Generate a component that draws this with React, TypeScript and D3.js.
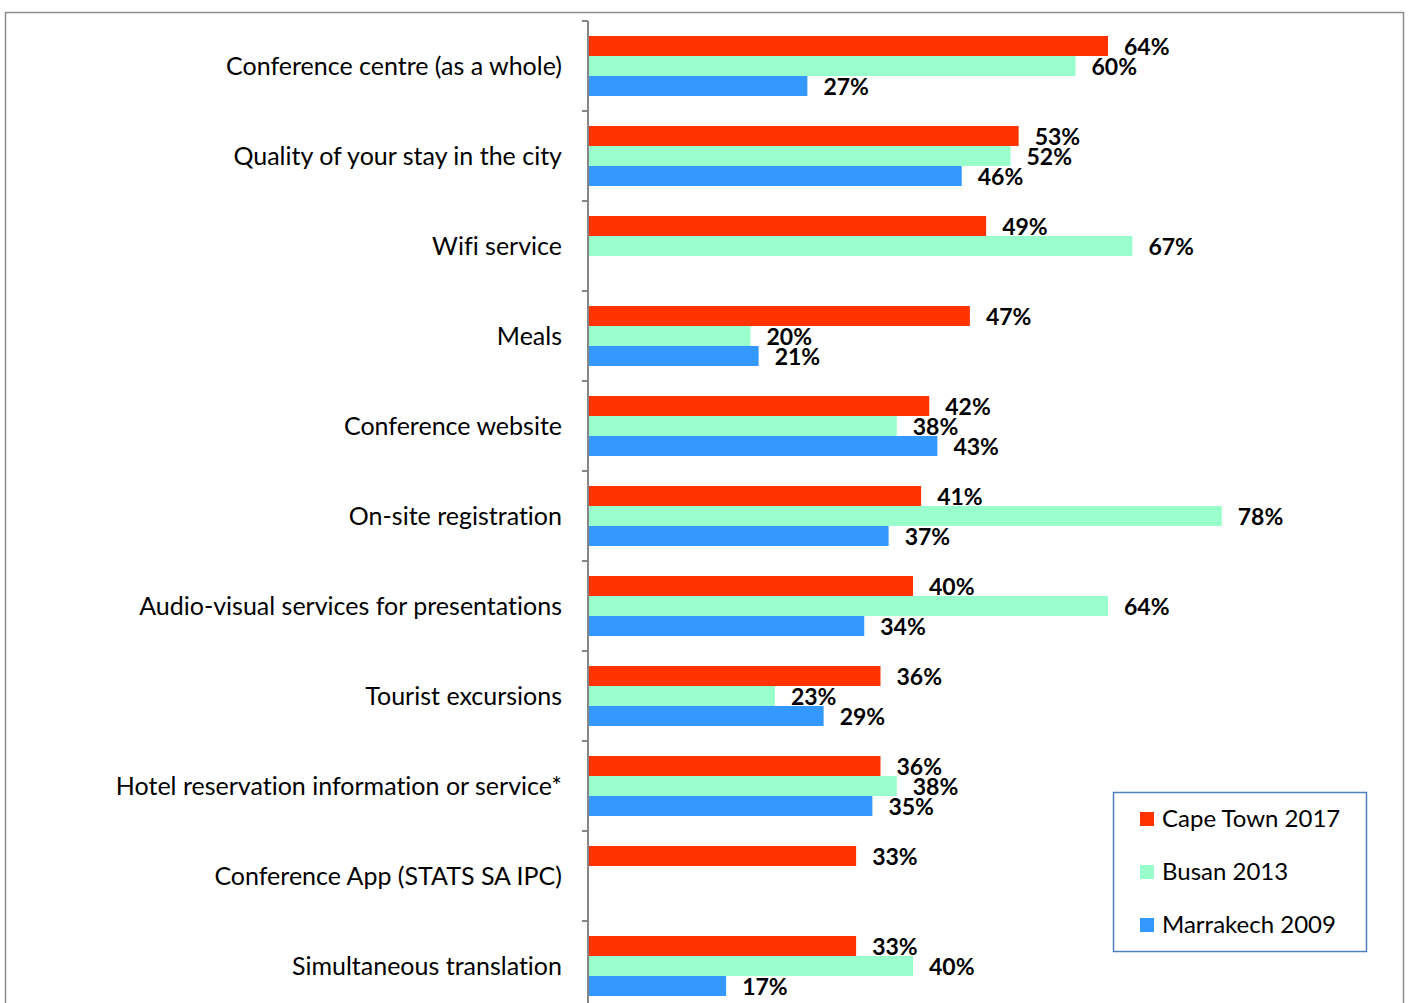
import React from "react";
import * as d3 from "d3";

const categories = [
  "Conference centre (as a whole)",
  "Quality of your stay in the city",
  "Wifi service",
  "Meals",
  "Conference website",
  "On-site registration",
  "Audio-visual services for presentations",
  "Tourist excursions",
  "Hotel reservation information or service*",
  "Conference App (STATS SA IPC)",
  "Simultaneous translation",
];
const capeTown2017: (number | null)[] = [64, 53, 49, 47, 42, 41, 40, 36, 36, 33, 33];
const busan2013: (number | null)[] = [60, 52, 67, 20, 38, 78, 64, 23, 38, null, 40];
const marrakech2009: (number | null)[] = [27, 46, null, 21, 43, 37, 34, 29, 35, null, 17];
const seriesNames = ["Cape Town 2017", "Busan 2013", "Marrakech 2009"];
const seriesColors = ["#FF3300", "#99FFCC", "#3399FF"];

export default function App() {
  const W = 1408, H = 1003;
  const x0 = 588;
  const top = 21;
  const band = 90;
  const y = d3.scaleBand<string>().domain(categories).range([top, top + band * categories.length]).paddingInner(0).paddingOuter(0);
  const x = d3.scaleLinear().domain([0, 64]).range([x0, 1108]);
  const series = [capeTown2017, busan2013, marrakech2009];
  const inner = d3.scaleBand<number>().domain([0, 1, 2]).range([15, 75]);
  const font = "Lato, 'Open Sans', sans-serif";
  return (
    <svg
      width={W}
      height={H}
      style={{ position: "absolute", left: 0, top: 0, fontVariantLigatures: "none", fontFeatureSettings: "'liga' 0, 'clig' 0" }}
      fontFamily={font}
    >
      <rect x={0} y={0} width={W} height={H} fill="#fff" />
      <rect x={5.5} y={12.5} width={1398} height={1100} fill="none" stroke="#8c8c8c" strokeWidth={1.5} />
      {categories.map((c, i) => (
        <g key={c}>
          {series.map((s, k) => {
            const v = s[i];
            if (v == null) return null;
            const yy = (y(c) as number) + (inner(k) as number);
            return (
              <g key={k}>
                <rect x={x(0)} y={yy} width={x(v) - x(0)} height={inner.bandwidth()} fill={seriesColors[k]} />
                <text x={x(v) + 16} y={yy + inner.bandwidth() / 2 + 9} fontSize={23} fontWeight="bold" fill="#000">
                  {v}%
                </text>
              </g>
            );
          })}
          <text x={562} y={(y(c) as number) + band / 2 + 9} textAnchor="end" fontSize={25} fill="#000">
            {c}
          </text>
        </g>
      ))}
      <line x1={x0} x2={x0} y1={top} y2={H} stroke="#868686" strokeWidth={2} />
      {d3.range(categories.length + 1).map((i) => (
        <line key={i} x1={x0 - 6} x2={x0} y1={top + i * band} y2={top + i * band} stroke="#868686" strokeWidth={2} />
      ))}
      <rect x={1113.5} y={792.5} width={253} height={159} fill="#fff" stroke="#4F81BD" strokeWidth={1.5} />
      {seriesNames.map((n, k) => (
        <g key={n}>
          <rect x={1140} y={812 + k * 53} width={14} height={14} fill={seriesColors[k]} />
          <text x={1162} y={827 + k * 53} fontSize={24} fill="#000">
            {n}
          </text>
        </g>
      ))}
    </svg>
  );
}
